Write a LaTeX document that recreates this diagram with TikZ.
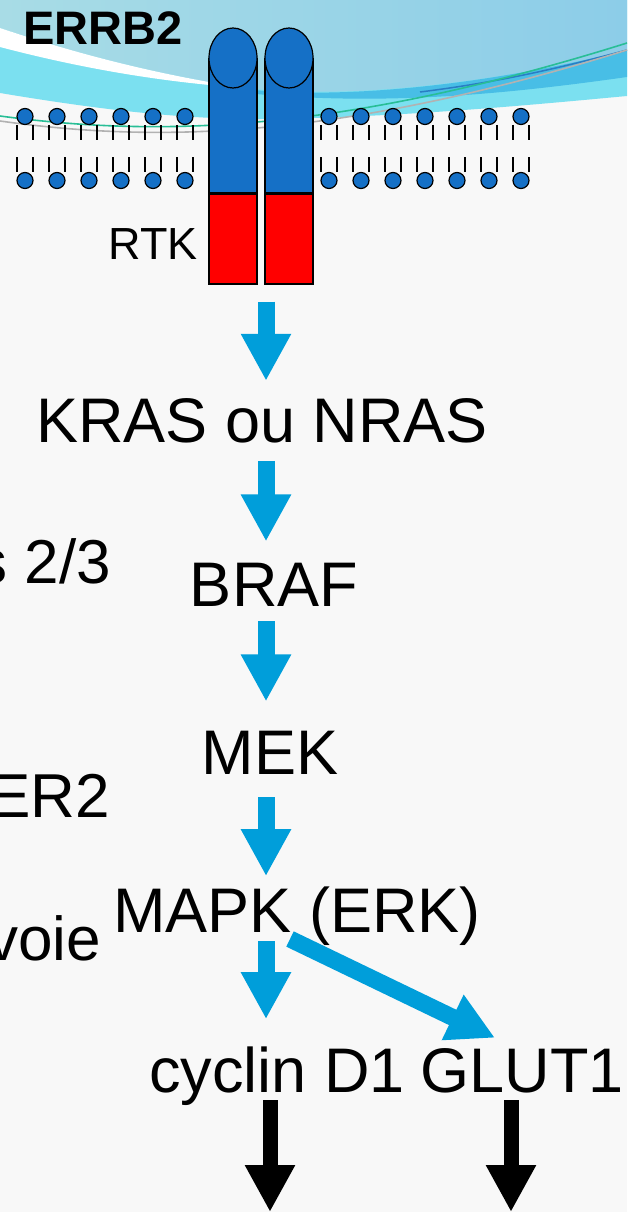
\documentclass[tikz,border=0pt]{standalone}
\usepackage{fontspec}
\setmainfont{Liberation Sans}
\usepackage{tikz}
\usetikzlibrary{arrows.meta}

\definecolor{paper}{RGB}{248,248,248}
\definecolor{skyA}{RGB}{168,220,230}
\definecolor{skyB}{RGB}{140,205,232}
\definecolor{cyanband}{RGB}{123,224,240}
\definecolor{midband}{RGB}{72,190,230}
\definecolor{darkline}{RGB}{42,125,196}
\definecolor{greenline}{RGB}{40,190,150}
\definecolor{headblue}{RGB}{21,112,198}
\definecolor{flowblue}{RGB}{0,158,218}

\tikzset{
  head/.style={fill=headblue,draw=black,line width=1.2pt},
  tail/.style={line width=1.4pt},
  kinase/.style={draw=black,line width=1.2pt,fill=red,
    minimum width=48pt,minimum height=90pt,inner sep=0pt},
  gene/.style={inner sep=0pt,anchor=base,font=\fontsize{63}{70}\selectfont},
  side/.style={inner sep=0pt,anchor=base east,font=\fontsize{62}{70}\selectfont},
  flow/.style={draw=flowblue,line width=17pt,-{Triangle[width=47pt,length=47pt]}},
  outflow/.style={draw=black,line width=15pt,-{Triangle[width=47pt,length=47pt]}},
}

\begin{document}
\begin{tikzpicture}[x=1pt,y=-1pt]
  \useasboundingbox (0,0) rectangle (627,1212);
  \clip (0,0) rectangle (627,1212);
  \fill[paper] (0,0) rectangle (627,1212);

  % sky
  \fill[cyanband] (0,0) -- (627,0) -- (627,96)
    .. controls (520,106) and (400,117) .. (270,119)
    .. controls (180,120) and (90,108) .. (0,93) -- cycle;
  \shade[left color=skyA,right color=skyB] (0,0) -- (627,0) -- (627,50)
    .. controls (500,82) and (350,100) .. (245,88)
    .. controls (160,75) and (80,55) .. (0,28) -- cycle;
  \fill[midband] (245,89) .. controls (350,101) and (500,82) .. (627,50)
    -- (627,77) .. controls (500,95) and (380,106) .. (245,93) -- cycle;
  \fill[white] (0,28) .. controls (80,55) and (160,75) .. (245,88)
    .. controls (160,82) and (80,68) .. (0,47) -- cycle;
  \draw[darkline,line width=1.5pt] (420,92) .. controls (500,82) and (560,68) .. (627,50);
  \draw[gray!60,line width=1.6pt] (0,121) .. controls (150,142) and (330,142) .. (627,50);
  \draw[greenline,line width=1.6pt] (0,116) .. controls (150,136) and (330,136) .. (627,43);

  % membrane
  \foreach \x in {25,57,...,185,329,361,...,521} {
    \draw[tail] (\x-8,125) -- (\x-8,140) (\x+8,125) -- (\x+8,140);
    \draw[tail] (\x-8,157) -- (\x-8,172) (\x+8,157) -- (\x+8,172);
    \filldraw[head] (\x,116.5) circle (8);
    \filldraw[head] (\x,180.5) circle (8);
  }

  % receptor dimer
  \foreach \c/\n in {233/L,289/R} {
    \fill[headblue] (\c-24,58) rectangle (\c+24,193);
    \draw[line width=1.2pt] (\c-24,58) -- (\c-24,193) -- (\c+24,193) -- (\c+24,58);
    \filldraw[head] (\c,58) ellipse [x radius=24, y radius=30];
    \node[kinase] (rtk\n) at (\c,239) {};
  }
  \node[inner sep=0pt,anchor=base west,font=\bfseries\fontsize{47}{50}\selectfont]
    (errb) at (23,45) {ERRB2};
  \node[inner sep=0pt,anchor=base east,font=\fontsize{45}{50}\selectfont]
    (rtklab) at (198,259) {RTK};

  % cascade
  \node[gene] (kras) at (262,442) {KRAS ou NRAS};
  \node[gene] (braf) at (274,606) {BRAF};
  \node[gene] (mek) at (270,774) {MEK};
  \node[gene] (mapk) at (297,932) {MAPK (ERK)};
  \node[gene] (cyclin) at (277,1092) {cyclin D1};
  \node[gene] (glut) at (522,1092) {GLUT1};

  \node[side] (note1) at (111,583) {s 2/3};
  \node[side] (note2) at (110,817) {ER2};
  \node[side] (note3) at (101,960) {voie};

  \path (266,0) coordinate (axis);
  \draw[flow,shorten <=17pt,shorten >=17pt] (rtkL.south -| axis) -- (kras.north -| axis);
  \draw[flow,shorten <=18pt,shorten >=21pt] (kras.south -| axis) -- (braf.north -| axis);
  \draw[flow,shorten <=15pt,shorten >=29pt] (braf.south -| axis) -- (mek.north -| axis);
  \draw[flow,shorten <=23pt,shorten >=10pt] (mek.south -| axis) -- (mapk.north -| axis);
  \draw[flow,shorten <=9pt,shorten >=27pt] (mapk.base -| axis) -- (cyclin.north -| axis);
  \draw[flow] ([xshift=-7pt,yshift=-7pt]mapk.base) -- ([xshift=-27pt,yshift=10pt]glut.north);

  % outputs
  \path (270,1212) coordinate (outL) (511,1212) coordinate (outR);
  \draw[outflow,shorten <=8pt] (cyclin.base -| outL) -- (outL);
  \draw[outflow,shorten <=8pt] (glut.base -| outR) -- (outR);
\end{tikzpicture}
\end{document}
